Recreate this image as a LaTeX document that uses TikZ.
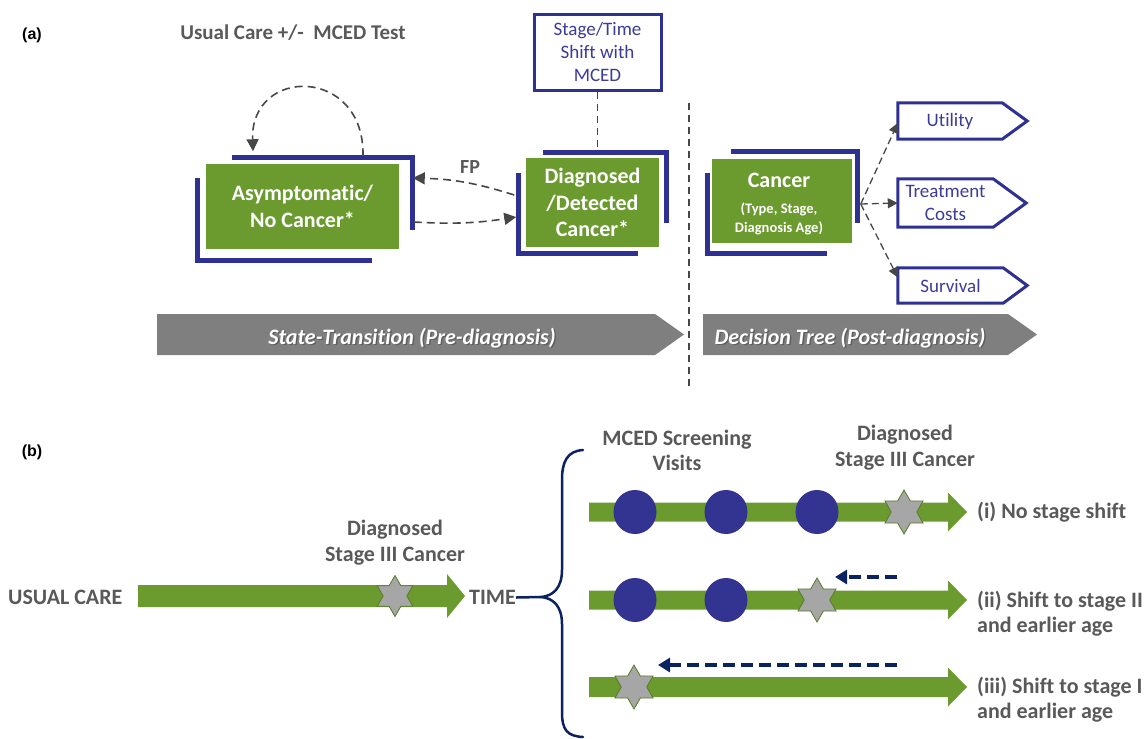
\documentclass[tikz,border=0pt]{standalone}
\usepackage{fontspec}
\setmainfont{Carlito}[Ligatures=NoCommon]
\newfontfamily\arialfont{Liberation Sans}
\usetikzlibrary{shapes.geometric,arrows.meta,calc}
\definecolor{grn}{HTML}{6B9A2F}
\definecolor{navy}{HTML}{2E3192}
\definecolor{navytext}{HTML}{3B3B98}
\definecolor{txtgray}{HTML}{595959}
\definecolor{arrgray}{HTML}{474747}
\definecolor{bargray}{HTML}{7F7F7F}
\definecolor{dknavy}{HTML}{0B2260}
\definecolor{stargray}{HTML}{A6A6A6}
\definecolor{circnavy}{HTML}{333391}
\newcommand\garrow[6]{% x1, tip, yc, shaft half, head half, head length
  \fill[grn] (#1,{#3-#4}) -- ({#2-#6},{#3-#4}) -- ({#2-#6},{#3-#5}) -- (#2,#3)
    -- ({#2-#6},{#3+#5}) -- ({#2-#6},{#3+#4}) -- (#1,{#3+#4}) -- cycle;}
\begin{document}
\begin{tikzpicture}[x=1pt,y=-1pt,
  gbox/.style={fill=grn, draw=white, line width=1.5pt, text=white, align=center, inner sep=0pt,
    font=\fontsize{22}{26.5}\selectfont\bfseries},
  navyL/.style={draw=navy, line width=5pt},
  lbl/.style={text=txtgray, align=center, inner sep=0pt, font=\fontsize{22}{25.5}\selectfont\bfseries},
  outbox/.style={draw=none, text=navytext, align=center, inner sep=0pt, font=\fontsize{19}{23}\selectfont},
  outline/.style={draw=navy, line width=3pt, line join=miter},
  dasharr/.style={draw=arrgray, line width=1.6pt, dash pattern=on 8pt off 5pt, -{Triangle[length=12pt,width=12pt]}},
  fanarr/.style={draw=arrgray, line width=1.3pt, dash pattern=on 7pt off 4pt, -{Triangle[length=10pt,width=10pt]}},
  plaindash/.style={draw=arrgray, line width=1.5pt, dash pattern=on 7pt off 5pt},
  navyarr/.style={draw=dknavy, line width=4pt, dash pattern=on 12pt off 6pt, -{Triangle[length=12pt,width=14pt]}},
  bartext/.style={text=white, inner sep=0pt, font=\fontsize{22}{25}\selectfont\bfseries\itshape},
  bartshadow/.style={text=black!70, opacity=0.6, inner sep=0pt, font=\fontsize{22}{25}\selectfont\bfseries\itshape},
  star6/.style={star, star points=6, star point ratio=1.73, fill=stargray, draw=grn!80!black, line width=0.8pt, minimum size=#1, inner sep=0pt},
  visit/.style={ellipse, fill=circnavy, minimum width=43pt, minimum height=44pt, inner sep=0pt},
  panel/.style={font=\arialfont\fontsize{16}{18}\selectfont\bfseries, inner sep=0pt}
]
\useasboundingbox (0,0) rectangle (1146,739);

% ---------------- panel (a) ----------------
\node[panel] (pa) at (32,35) {(a)};
\node[lbl, font=\fontsize{21}{24}\selectfont\bfseries] (title) at (293,33) {Usual Care +/-\ \ MCED Test};

% state boxes
\draw[navyL] (232,157) -- (412,157) -- (412,230);
\draw[navyL] (197,178) -- (197,260) -- (372,260);
\node[gbox, minimum width=195pt, minimum height=87pt] (asym) at (302.5,206.5) {Asymptomatic/\\No Cancer*};

\draw[navyL] (543,152) -- (666,152) -- (666,223);
\draw[navyL] (518,173) -- (518,253) -- (638,253);
\node[gbox, minimum width=135pt, minimum height=91pt] (diag) at (592.5,202.5) {Diagnosed\\/Detected\\Cancer*};

\node[draw=navy, line width=3pt, fill=white, minimum width=127pt, minimum height=76pt, text=navytext, align=center, inner sep=0pt,
  font=\fontsize{19}{23}\selectfont] (stage) at (597.5,52) {Stage/Time\\Shift with\\MCED};
\coordinate (diagtop) at ([yshift=5pt]diag.north);
\draw[plaindash] (stage.south) -- (stage.south |- diagtop);

% transitions
\draw[dasharr] ([xshift=60.5pt,yshift=6pt]asym.north) .. controls (365,66) and (250,66) .. ([xshift=-49.5pt,yshift=11pt]asym.north);
\draw[dasharr] ([xshift=-10pt,yshift=7.5pt]diag.west) to[bend right=8] ([xshift=12pt,yshift=28.5pt]asym.east);
\draw[dasharr] ([xshift=13pt,yshift=-15.5pt]asym.east) to[bend right=6] ([xshift=-8pt,yshift=-14.5pt]diag.west);
\node[lbl, font=\fontsize{20}{23}\selectfont\bfseries] (fp) at (470,167) {FP};

% divider
\coordinate (divtop) at (689,103);
\coordinate (divbot) at (689,386);
\draw[plaindash] (divtop) -- (divbot);

% decision tree
\draw[navyL] (731,151) -- (857,151) -- (857,223);
\draw[navyL] (707,173) -- (707,253) -- (827,253);
\node[gbox, minimum width=142pt, minimum height=86pt] (cancer) at (782,201) {};
\node[text=white, inner sep=0pt, font=\fontsize{22}{25}\selectfont\bfseries] (cancert) at (779,180) {Cancer};
\node[text=white, inner sep=0pt, align=center, font=\fontsize{14.5}{19}\selectfont\bfseries] (cancers) at (779,218.5) {(Type, Stage,\\Diagnosis Age)};

\node[outbox, minimum width=104pt, minimum height=36pt] (util) at (950,121) {Utility};
\node[outbox, minimum width=95pt, minimum height=48pt] (treat) at (945.5,203) {Treatment\\Costs};
\node[outbox, minimum width=105pt, minimum height=35pt] (surv) at (950.5,285.5) {Survival};
\draw[outline] (util.north west) -- (util.north east) -- ($(util.east)+(25pt,0pt)$) -- (util.south east) -- (util.south west) -- cycle;
\draw[outline] (treat.north west) -- (treat.north east) -- ($(treat.east)+(33pt,0pt)$) -- (treat.south east) -- (treat.south west) -- cycle;
\draw[outline] (surv.north west) -- (surv.north east) -- ($(surv.east)+(24pt,0pt)$) -- (surv.south east) -- (surv.south west) -- cycle;

\coordinate (fan) at ([xshift=7pt,yshift=-3pt]cancer.east);
\draw[fanarr] (fan) -- ([yshift=-2pt]util.west);
\draw[fanarr] (fan) -- (treat.west);
\draw[fanarr] (fan) -- ([yshift=8pt]surv.west);

% phase bars
\fill[bargray] (157,314) -- (655,314) -- (684,334.5) -- (655,355) -- (157,355) -- cycle;
\fill[bargray] (703,314) -- (1008,314) -- (1037,334.5) -- (1008,355) -- (703,355) -- cycle;
\node[bartshadow] at (413.5,339.5) {State-Transition (Pre-diagnosis)};
\node[bartext] (st) at (412,338) {State-Transition (Pre-diagnosis)};
\node[bartshadow] at (851.5,339.5) {Decision Tree (Post-diagnosis)};
\node[bartext] (dt) at (850,338) {Decision Tree (Post-diagnosis)};

% ---------------- panel (b) ----------------
\node[panel] (pb) at (32,452) {(b)};

\node[lbl, anchor=west] (usual) at (8,597) {USUAL CARE};
\garrow{138}{465}{596}{11}{22}{18}
\node[star6=41pt] (s0) at (395,596) {};
\node[lbl] (d0) at (395,542.5) {Diagnosed\\Stage III Cancer};
\node[lbl, anchor=west] (time) at (469,597.5) {TIME};

\coordinate (bracetip) at (541,597);
\draw[dknavy, line width=2.5pt] (time.east) -- (bracetip);
\draw[dknavy, line width=2.5pt, line cap=round]
  (583,450) .. controls (567,451) and (562,462) .. (562,480) -- (562,570)
  .. controls (562,588) and (553,596) .. (bracetip)
  .. controls (553,598) and (562,606) .. (562,624) -- (562,712)
  .. controls (562,730) and (567,736) .. (583,737);

\node[lbl] (mced) at (677,450.5) {MCED Screening\\Visits};
\node[lbl] (d1lab) at (905,447.5) {Diagnosed\\Stage III Cancer};

% row i
\garrow{589}{967}{512}{9.5}{19.5}{19}
\node[visit] (v11) at (635,512) {};
\node[visit] (v12) at (726,512) {};
\node[visit] (v13) at (817,512) {};
\node[star6=44pt] (s1) at (904,512) {};
\node[lbl, anchor=west] (r1) at (977,512) {(i) No stage shift};

% row ii
\garrow{589}{967}{600}{9.5}{19.5}{19}
\node[visit] (v21) at (635,600) {};
\node[visit] (v22) at (726,600) {};
\node[star6=44pt] (s2) at (817,600) {};
\coordinate (a2s) at (897,577);
\coordinate (a2e) at (835,577);
\draw[navyarr] (a2s) -- (a2e);
\node[lbl, anchor=west, align=left] (r2) at (977,613.5) {(ii) Shift to stage II\\and earlier age};

% row iii
\garrow{589}{967}{687}{10}{19.5}{19}
\node[star6=44pt] (s3) at (634,687) {};
\coordinate (a3s) at (897,665);
\coordinate (a3e) at (658,665);
\draw[navyarr] (a3s) -- (a3e);
\node[lbl, anchor=west, align=left] (r3) at (977,699.5) {(iii) Shift to stage I\\and earlier age};
\end{tikzpicture}
\end{document}
